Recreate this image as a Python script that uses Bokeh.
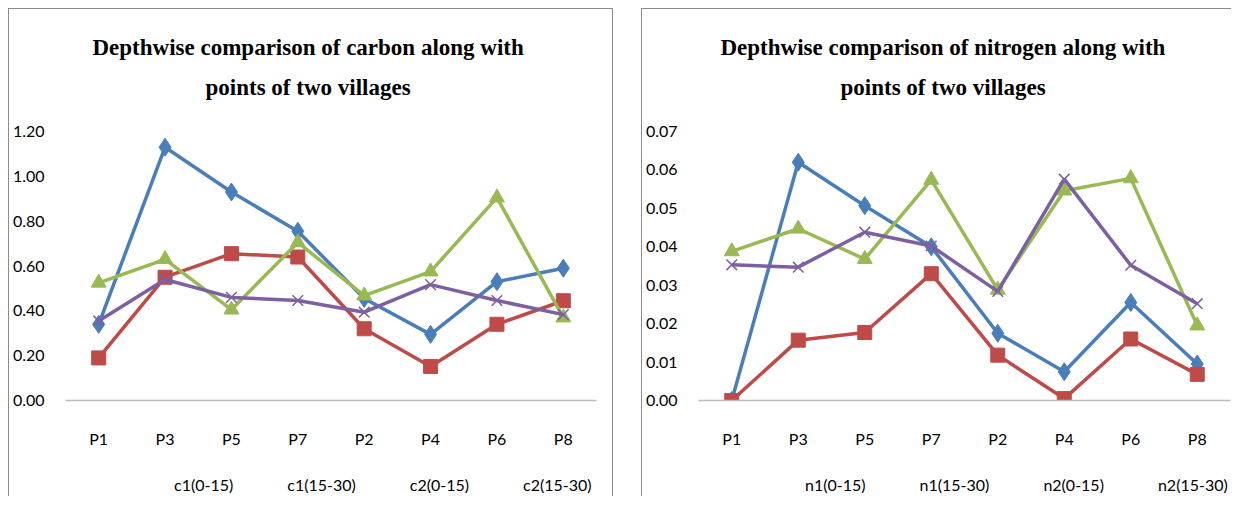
from bokeh.plotting import figure
from bokeh.models import (ColumnDataSource, FactorRange, Range1d, Title, Legend,
                          LegendItem, FixedTicker, NumeralTickFormatter)
from bokeh.layouts import row, column
from bokeh.embed import file_html
from bokeh.resources import INLINE

points = ["P1", "P3", "P5", "P7", "P2", "P4", "P6", "P8"]

c1_0_15 = [0.34, 1.13, 0.93, 0.755, 0.455, 0.295, 0.53, 0.59]
c1_15_30 = [0.19, 0.55, 0.655, 0.64, 0.32, 0.152, 0.34, 0.445]
c2_0_15 = [0.525, 0.63, 0.405, 0.705, 0.468, 0.575, 0.905, 0.37]
c2_15_30 = [0.355, 0.54, 0.46, 0.446, 0.394, 0.517, 0.446, 0.383]

n1_0_15 = [0.0, 0.062, 0.0507, 0.040, 0.0175, 0.0075, 0.0255, 0.0095]
n1_15_30 = [0.0, 0.0157, 0.0177, 0.033, 0.0118, 0.0005, 0.016, 0.0068]
n2_0_15 = [0.0388, 0.0447, 0.0368, 0.0574, 0.0288, 0.0546, 0.0578, 0.0195]
n2_15_30 = [0.0353, 0.0347, 0.0438, 0.0402, 0.0284, 0.0576, 0.0352, 0.0252]

carbon_labels = ["c1(0-15)", "c1(15-30)", "c2(0-15)", "c2(15-30)"]
nitrogen_labels = ["n1(0-15)", "n1(15-30)", "n2(0-15)", "n2(15-30)"]
carbon_ticks = [0.0, 0.2, 0.4, 0.6, 0.8, 1.0, 1.2]
nitrogen_ticks = [0.0, 0.01, 0.02, 0.03, 0.04, 0.05, 0.06, 0.07]

COLORS = ["#4A7EBB", "#BE4B48", "#98B954", "#7D60A0"]
MARKERS = ["diamond", "square", "triangle", "x"]
MSIZES = [18, 14, 15, 15]

TICK_FONT = "Lato"
TITLE_FONT = "Liberation Serif"
BORDER = "1px solid #8C8C8C"


def make_chart(line1, line2, series, ticks, width, left, right,
               off1, off2, styles):
    p = figure(x_range=FactorRange(*points), y_range=Range1d(0, ticks[-1]),
               width=width, height=450, output_backend="svg",
               toolbar_location=None, min_border_left=left,
               min_border_right=right, min_border_top=122,
               min_border_bottom=59, outline_line_color=None,
               styles=styles)
    p.xgrid.grid_line_color = None
    p.ygrid.grid_line_color = None

    for vals, col, mk, ms in zip(series, COLORS, MARKERS, MSIZES):
        src = ColumnDataSource(data=dict(x=points, y=vals))
        p.line("x", "y", source=src, line_color=col, line_width=3.5)
        p.scatter("x", "y", source=src, marker=mk, size=ms,
                  fill_color=col, line_color=col,
                  line_width=1.5 if mk == "x" else 1)

    p.yaxis.ticker = FixedTicker(ticks=ticks)
    p.yaxis.formatter = NumeralTickFormatter(format="0.00")
    p.yaxis.axis_line_color = None
    p.yaxis.major_tick_line_color = None
    p.yaxis.minor_tick_line_color = None
    p.yaxis.major_label_standoff = 15
    p.xaxis.axis_line_color = "#BBBBBB"
    p.xaxis.axis_line_width = 1.5
    p.xaxis.major_tick_line_color = None
    p.xaxis.minor_tick_line_color = None
    p.xaxis.major_label_standoff = 22
    p.axis.major_label_text_font = TICK_FONT
    p.axis.major_label_text_font_size = "16px"
    p.axis.major_label_text_color = "#000000"

    spacer = Title(text=" ", text_font_size="1px", standoff=24)
    t2 = Title(text=line2, text_font=TITLE_FONT, text_font_size="23px",
               text_font_style="bold", align="left", offset=off2,
               standoff=10, text_color="#000000")
    t1 = Title(text=line1, text_font=TITLE_FONT, text_font_size="23px",
               text_font_style="bold", align="left", offset=off1,
               standoff=16, text_color="#000000")
    p.add_layout(spacer, "above")
    p.add_layout(t2, "above")
    p.add_layout(t1, "above")
    return p


def make_legend(labels, width, legend_x, styles):
    lf = figure(width=width, height=38, output_backend="svg",
                toolbar_location=None, x_axis_type=None, y_axis_type=None,
                min_border=0, outline_line_color=None, styles=styles)
    lf.grid.visible = False
    items = []
    for lab, col, mk, ms in zip(labels, COLORS, MARKERS, MSIZES):
        src = ColumnDataSource(data=dict(x=[], y=[]))
        r1 = lf.line("x", "y", source=src, line_color=col, line_width=3.5)
        r2 = lf.scatter("x", "y", source=src, marker=mk, size=ms,
                        fill_color=col, line_color=col,
                        line_width=1.5 if mk == "x" else 1)
        items.append(LegendItem(label=lab, renderers=[r1, r2]))
    legend = Legend(items=items, orientation="horizontal",
                    location=(legend_x, 2), border_line_color=None,
                    background_fill_alpha=0, glyph_width=33, glyph_height=20,
                    label_standoff=1, spacing=20, padding=4, margin=0,
                    label_text_font=TICK_FONT, label_text_font_size="16px",
                    label_text_color="#000000")
    lf.add_layout(legend)
    return lf


p1 = make_chart("Depthwise comparison of carbon along with",
                "points of two villages",
                [c1_0_15, c1_15_30, c2_0_15, c2_15_30],
                carbon_ticks, 605, 54, 18, 27, 140,
                {"border-left": BORDER, "border-top": BORDER,
                 "border-right": BORDER})
l1 = make_legend(carbon_labels, 605, 75,
                 {"border-left": BORDER, "border-right": BORDER})

p2 = make_chart("Depthwise comparison of nitrogen along with",
                "points of two villages",
                [n1_0_15, n1_15_30, n2_0_15, n2_15_30],
                nitrogen_ticks, 590, 56, 2, 22, 142,
                {"border-left": BORDER, "border-top": BORDER})
l2 = make_legend(nitrogen_labels, 590, 73, {"border-left": BORDER})

layout = row(column(p1, l1), column(p2, l2), spacing=28)
layout.margin = (8, 0, 0, 8)

with open("out.html", "w") as f:
    f.write(file_html(layout, INLINE))
